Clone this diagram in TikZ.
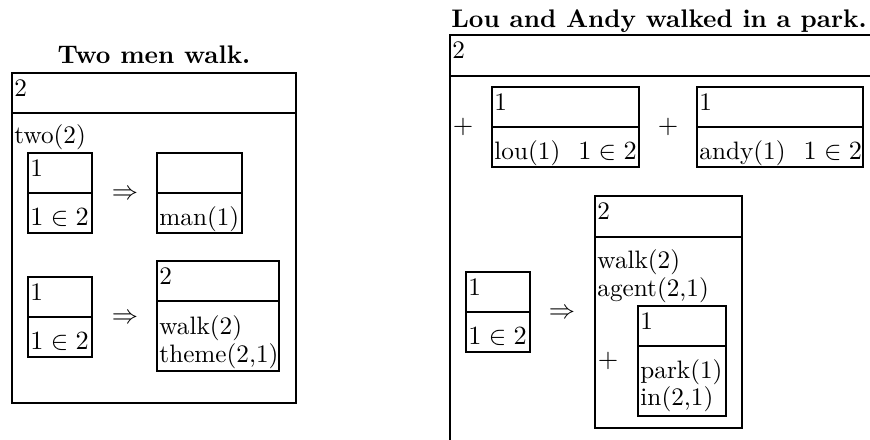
\documentclass[tikz,border=0pt]{standalone}
\begin{document}
\begin{tikzpicture}[x=0.41667pt,y=-0.41667pt,
  boxline/.style={line width=1pt},
  lbl/.style={anchor=base west, inner sep=0pt, font=\fontsize{10.5pt}{12.6pt}\selectfont},
  sym/.style={anchor=base, inner sep=0pt, font=\fontsize{10.5pt}{12.6pt}\selectfont},
  ttl/.style={anchor=base, inner sep=0pt, font=\fontsize{10.6pt}{12.7pt}\selectfont\bfseries}]
\path[use as bounding box] (0,0) rectangle (870,439);
\clip (0,0) rectangle (870,439);
\newcommand{\mydrs}[6]{%
  \draw[boxline] (#2,#3) rectangle (#4,#6);
  \draw[boxline] (#2,#5) -- (#4,#5);
  \coordinate (#1) at (#2,#3);}
% ---------- left ----------
\node[ttl] (t1) at (154,63) {Two men walk.};
\mydrs{L}{12}{73}{296}{113}{403}
\node[lbl] (L2) at (14,96) {2};
\node[lbl] (Ltwo) at (14,143) {two(2)};
\mydrs{A}{28}{153}{92}{193}{233}
\node[lbl] (A1) at (30,176) {1};
\node[lbl] (A2) at (30,225) {$1\in2$};
\node[sym] (imp1) at (125,199) {$\Rightarrow$};
\mydrs{B}{157}{153}{242}{193}{233}
\node[lbl] (B2) at (159,225) {man(1)};
\mydrs{C}{28}{277}{92}{317}{357}
\node[lbl] (C1) at (30,300) {1};
\node[lbl] (C2) at (30,349) {$1\in2$};
\node[sym] (imp2) at (125,323) {$\Rightarrow$};
\mydrs{D}{157}{261}{279}{301}{371}
\node[lbl] (D1) at (159,284) {2};
\node[lbl] (D2) at (159,334) {walk(2)};
\node[lbl] (D3) at (159,362) {theme(2,1)};
% ---------- right ----------
\node[ttl] (t2) at (659,27) {Lou and Andy walked in a park.};
\mydrs{R}{450}{35}{885}{76}{460}
\node[lbl] (R2) at (452,58) {2};
\node[sym] (p1) at (463,133) {$+$};
\mydrs{E}{492}{87}{639}{127}{167}
\node[lbl] (E1) at (494,110) {1};
\node[lbl] (E2) at (494,159) {lou(1)\hspace{7.5pt}$1\in2$};
\node[sym] (p2) at (668,133) {$+$};
\mydrs{F}{697}{87}{863}{127}{167}
\node[lbl] (F1) at (699,110) {1};
\node[lbl] (F2) at (699,159) {andy(1)\hspace{7.5pt}$1\in2$};
\mydrs{H}{466}{272}{530}{312}{352}
\node[lbl] (H1) at (468,295) {1};
\node[lbl] (H2) at (468,344) {$1\in2$};
\node[sym] (imp3) at (562,318) {$\Rightarrow$};
\mydrs{G}{595}{196}{742}{237}{428}
\node[lbl] (G1) at (597,219) {2};
\node[lbl] (G2) at (597,268) {walk(2)};
\node[lbl] (G3) at (597,296) {agent(2,1)};
\node[sym] (p3) at (608,367) {$+$};
\mydrs{I}{638}{306}{726}{346}{416}
\node[lbl] (I1) at (640,329) {1};
\node[lbl] (I2) at (640,378) {park(1)};
\node[lbl] (I3) at (640,405) {in(2,1)};
\end{tikzpicture}
\end{document}
